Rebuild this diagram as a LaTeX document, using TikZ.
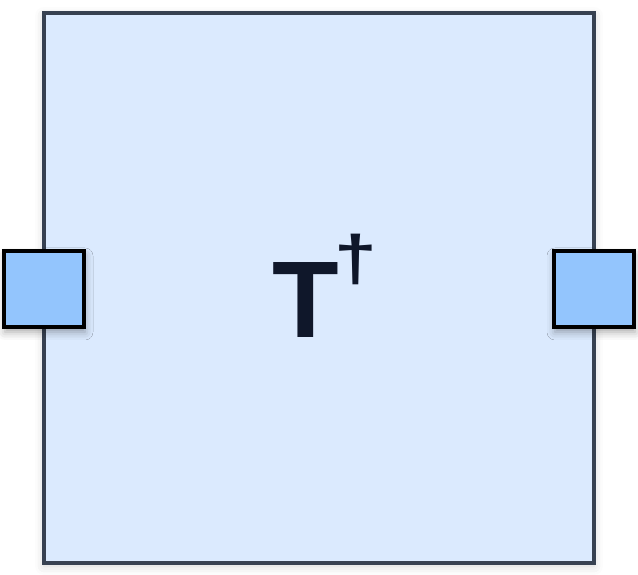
\documentclass[tikz,border=0pt]{standalone}
\usepackage{fontspec}
\setmainfont{Liberation Sans}
\usetikzlibrary{positioning, shadows.blur}
\definecolor{boxfill}{HTML}{DBEAFE}
\definecolor{boxline}{HTML}{374151}
\definecolor{portfill}{HTML}{93C5FD}
\definecolor{labelink}{HTML}{0F172A}

\begin{document}
\begin{tikzpicture}[
  opbox/.style={draw=boxline, line width=4pt, fill=boxfill, inner sep=0pt,
    outer sep=0pt, minimum width=550pt, minimum height=550pt,
    blur shadow={shadow xshift=0pt, shadow yshift=-3pt,
      shadow blur radius=9pt, shadow opacity=18}},
  port/.style={draw=black, line width=4pt, fill=portfill, inner sep=0pt,
    minimum width=80pt, minimum height=76pt,
    blur shadow={shadow xshift=1pt, shadow yshift=-5pt,
      shadow blur radius=8pt, shadow opacity=35}},
  oplabel/.style={text=labelink, font=\fontsize{109}{109}\selectfont\bfseries}
]
\useasboundingbox (0,0) rectangle (638pt,575pt);
\node[opbox] (op) at (319pt,287pt) {};
\node[oplabel] (optext) at ([xshift=6pt,yshift=2pt]op.center) {T\kern-5pt\raisebox{57pt}{\fontsize{64}{64}\selectfont\scalebox{1.2}[1]{†}}};
\node[port] (inport) at ([yshift=-1pt]op.west) {};
\node[port] (outport) at ([yshift=-1pt]op.east) {};
\end{tikzpicture}
\end{document}
